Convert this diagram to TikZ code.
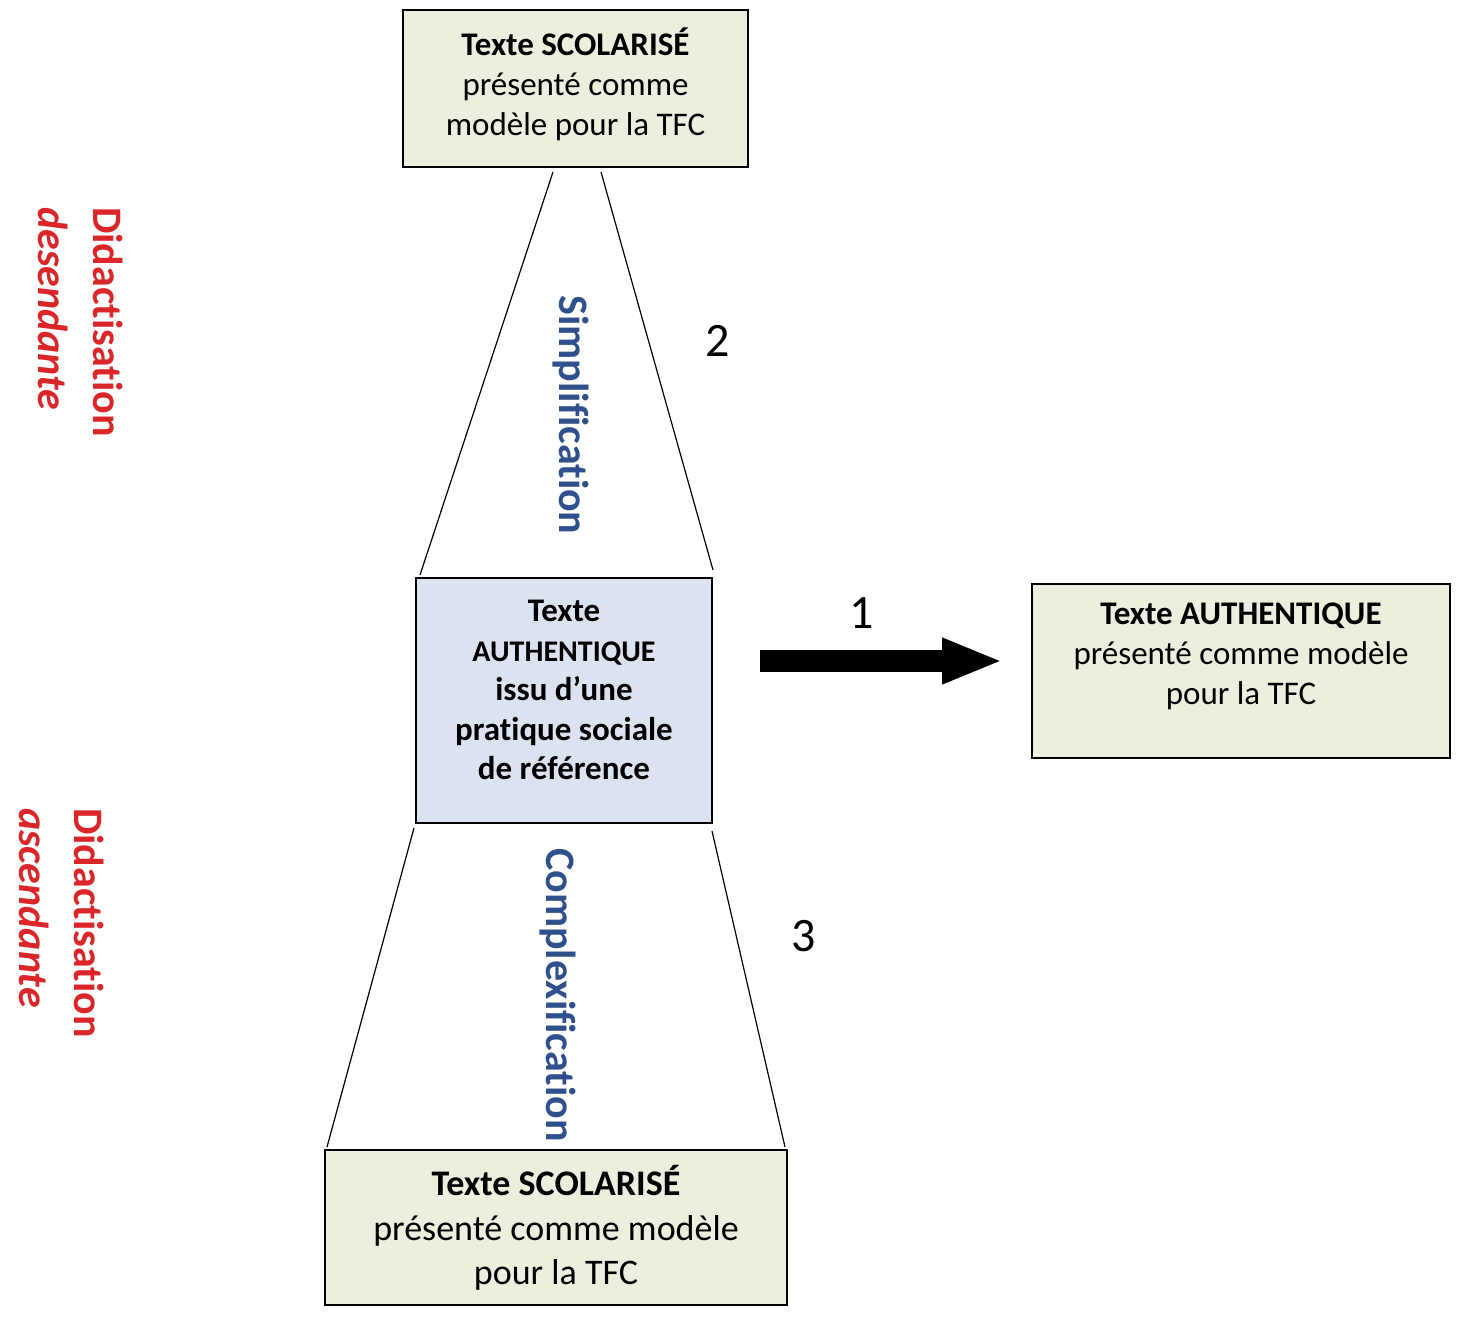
\documentclass[tikz,border=0pt]{standalone}
\usepackage{fontspec}
\setmainfont{Carlito}[Ligatures={TeX,NoCommon}]
\usetikzlibrary{arrows.meta}
\definecolor{boxgreen}{RGB}{236,239,222}
\definecolor{boxblue}{RGB}{220,227,240}
\definecolor{redtxt}{RGB}{218,38,40}
\definecolor{bluetxt}{RGB}{47,80,140}
\tikzset{
  boxg/.style={draw=black, line width=1.6pt, fill=boxgreen, inner sep=0pt},
  boxb/.style={draw=black, line width=1.6pt, fill=boxblue, inner sep=0pt},
  boxtext/.style={align=center, inner sep=0pt, font=\fontsize{33}{40}\selectfont},
  sidelabel/.style={rotate=-90, align=left, anchor=west, inner sep=0pt, text=redtxt, font=\fontsize{42}{55}\selectfont\bfseries},
  vlabel/.style={rotate=-90, inner sep=0pt, text=bluetxt, font=\fontsize{42}{50}\selectfont\bfseries},
  num/.style={inner sep=0pt, font=\fontsize{48}{56}\selectfont},
  conn/.style={line width=1.2pt, black}
}
\begin{document}
\begin{tikzpicture}[x=1pt,y=-1pt]
\useasboundingbox (0,0) rectangle (1460,1325);
% boxes
\node[boxg, minimum width=345pt, minimum height=157pt] (top) at (575.5,88.5) {};
\node[boxtext] (toptxt) at (575.5,84) {\textbf{Texte SCOLARISÉ}\\présenté comme\\modèle pour la TFC};
\node[boxb, minimum width=296pt, minimum height=245pt] (mid) at (564,700.5) {};
\node[boxtext, font=\fontsize{33}{39.5}\selectfont\bfseries] (midtxt) at (564,690) {Texte\\{\fontsize{30}{39.5}\selectfont AUTHENTIQUE}\\issu d’une\\pratique sociale\\de référence};
\node[boxg, minimum width=418pt, minimum height=174pt] (right) at (1241,671) {};
\node[boxtext] (righttxt) at (1241,656) {\textbf{Texte AUTHENTIQUE}\\présenté comme modèle\\pour la TFC};
\node[boxg, minimum width=462pt, minimum height=155pt] (bot) at (556,1227.5) {};
\node[boxtext, font=\fontsize{36}{44.5}\selectfont] (bottxt) at (556,1228) {\textbf{Texte SCOLARISÉ}\\présenté comme modèle\\pour la TFC};
% connector coordinates
\coordinate (tl1) at (553,172);
\coordinate (tl2) at (420,575);
\coordinate (tr1) at (601,172);
\coordinate (tr2) at (713,570);
\coordinate (bl1) at (414,828);
\coordinate (bl2) at (327,1147);
\coordinate (br1) at (712,831);
\coordinate (br2) at (785,1147);
\draw[conn] (tl1) -- (tl2);
\draw[conn] (tr1) -- (tr2);
\draw[conn] (bl1) -- (bl2);
\draw[conn] (br1) -- (br2);
% arrow
\coordinate (a1) at (760,661);
\coordinate (a2) at (1003,661);
\draw[line width=22pt, -{Triangle[length=61pt,width=42pt]}] (a1) -- (a2);
% labels
\node[num] (n1) at (862,613) {1};
\node[num] (n2) at (718,341) {2};
\node[num] (n3) at (804,936) {3};
\node[vlabel] (simp) at (571,415) {Simplification};
\node[vlabel] (comp) at (558,995) {Complexification};
\node[sidelabel] (dd) at (81,207) {Didactisation\\\textit{desendante}};
\node[sidelabel] (da) at (62,808) {Didactisation\\\textit{ascendante}};
\end{tikzpicture}
\end{document}
